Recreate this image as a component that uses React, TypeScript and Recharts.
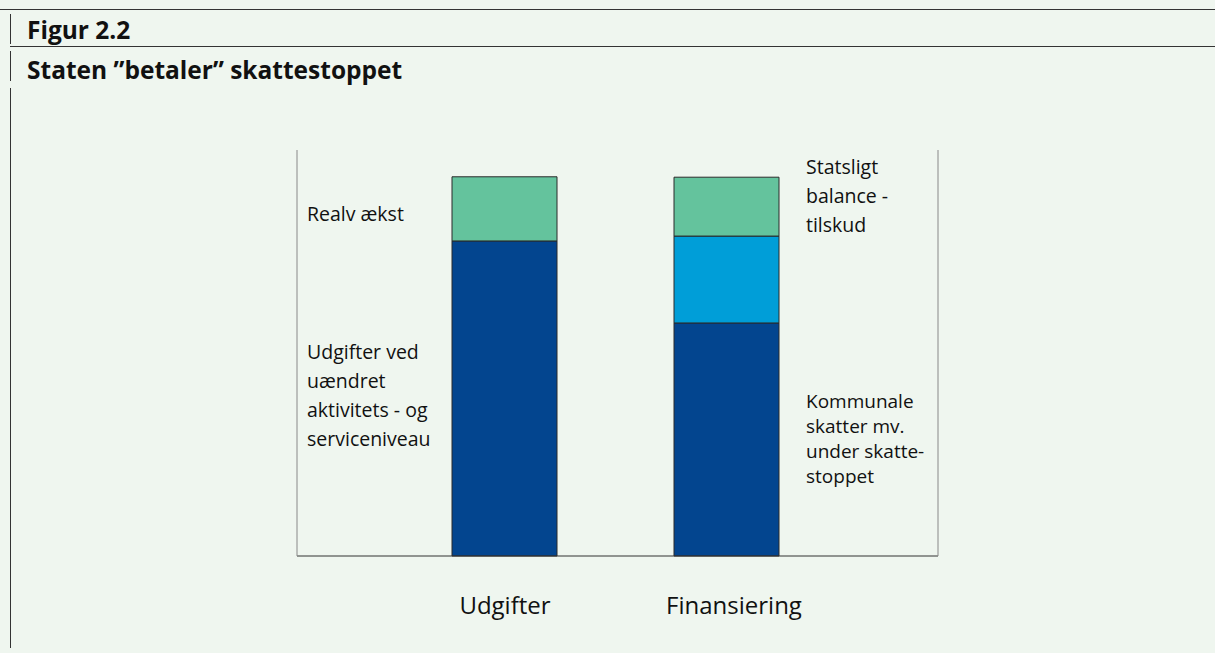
import React from "react";
import { BarChart, Bar, XAxis, YAxis, LabelList } from "recharts";

const categories = ["Udgifter", "Finansiering"];
const kommunaleSkatter = [77.6, 57.4];
const bloktilskud = [0, 21.4];
const balancetilskud = [15.8, 14.5];

const baseLabels = [
  ["Udgifter ved", "uændret", "aktivitets  - og", "serviceniveau"],
  ["Kommunale", "skatter mv.", "under skatte-", "stoppet"],
];
const blokLabels = [[], ["Statsligt", "bloktilskud"]];
const balanceLabels = [["Realv ækst"], ["Statsligt", "balance -", "tilskud"]];

const data = categories.map((name, i) => ({
  name,
  base: kommunaleSkatter[i],
  blok: bloktilskud[i],
  balance: balancetilskud[i],
}));

const FONT = "'Open Sans', 'DejaVu Sans', sans-serif";
const BG = "#eff6ef";

// label placement tweaks (shift of text block vs segment centre, line height)
const makeLabel =
  (lines: string[][], shift: number[], lineH: number[], size: number[]) =>
  (props: any) => {
    const { x, y, width, height, index } = props;
    const ls = lines[index];
    if (!ls || !ls.length) return null;
    const top = height < 0 ? y + height : y;
    const h = Math.abs(height);
    const tx = index === 0 ? x - 145 : x + width + 27;
    const cy = top + h / 2 + shift[index];
    const y0 = cy - ((ls.length - 1) * lineH[index]) / 2;
    return (
      <text fontFamily={FONT} fontSize={size[index]} fill="#111">
        {ls.map((l, i) => (
          <tspan key={i} x={tx} y={y0 + i * lineH[index]} dominantBaseline="central">
            {l}
          </tspan>
        ))}
      </text>
    );
  };

const XTick = (props: any) => {
  const { x, y, payload, index } = props;
  return (
    <text x={x + (index === 1 ? 8 : 1)} y={y + 48} textAnchor="middle" dominantBaseline="central" fontFamily={FONT} fontSize={24} fill="#111">
      {payload.value}
    </text>
  );
};

export default function App() {
  return (
    <div style={{ position: "absolute", left: 0, top: 0, width: 1215, height: 653, background: BG, overflow: "hidden" }}>
      <div style={{ position: "absolute", left: 0, top: 9, width: 1215, height: 1, background: "#333" }} />
      <div style={{ position: "absolute", left: 10, top: 46, width: 1205, height: 1, background: "#333" }} />
      <div style={{ position: "absolute", left: 10, top: 14, width: 1, height: 30, background: "#333" }} />
      <div style={{ position: "absolute", left: 10, top: 51, width: 1, height: 30, background: "#333" }} />
      <div style={{ position: "absolute", left: 10, top: 88, width: 1, height: 560, background: "#333" }} />
      <div style={{ position: "absolute", left: 27, top: 14, fontFamily: FONT, fontWeight: 700, fontSize: 24.5, lineHeight: "32px", color: "#111" }}>
        Figur 2.2
      </div>
      <div style={{ position: "absolute", left: 27, top: 54, fontFamily: FONT, fontWeight: 700, fontSize: 24.5, lineHeight: "32px", color: "#111" }}>
        Staten ”betaler” skattestoppet
      </div>
      <div style={{ position: "absolute", left: 0, top: 0 }}>
        <BarChart
          width={1215}
          height={653}
          data={data}
          margin={{ top: 150, right: 276, bottom: 37, left: 296 }}
          barSize={105}
        >
          <XAxis
            dataKey="name"
            axisLine={{ stroke: "#333" }}
            tickLine={false}
            tickSize={0}
            tickMargin={0}
            height={60}
            padding={{ left: 96, right: 101 }}
            tick={<XTick />}
          />
          <YAxis yAxisId="l" width={1} domain={[0, 100]} tick={false} tickLine={false} axisLine={{ stroke: "#888" }} />
          <YAxis yAxisId="r" orientation="right" width={1} domain={[0, 100]} tick={false} tickLine={false} axisLine={{ stroke: "#888" }} />
          <Bar yAxisId="l" dataKey="base" stackId="a" fill="#03458f" stroke="#2b2b2b" strokeWidth={1} isAnimationActive={false}>
            <LabelList dataKey="base" content={makeLabel(baseLabels, [-3, -1], [29, 25], [19.5, 19])} />
          </Bar>
          <Bar yAxisId="l" dataKey="blok" stackId="a" fill="#009ed8" stroke="#2b2b2b" strokeWidth={1} isAnimationActive={false}>
            <LabelList dataKey="blok" content={makeLabel(blokLabels, [0, 29], [29, 29], [19.5, 19.5])} />
          </Bar>
          <Bar yAxisId="l" dataKey="balance" stackId="a" fill="#64c39d" stroke="#2b2b2b" strokeWidth={1} isAnimationActive={false}>
            <LabelList dataKey="balance" content={makeLabel(balanceLabels, [5, -11], [29, 29], [19.5, 19.5])} />
          </Bar>
        </BarChart>
      </div>
    </div>
  );
}
